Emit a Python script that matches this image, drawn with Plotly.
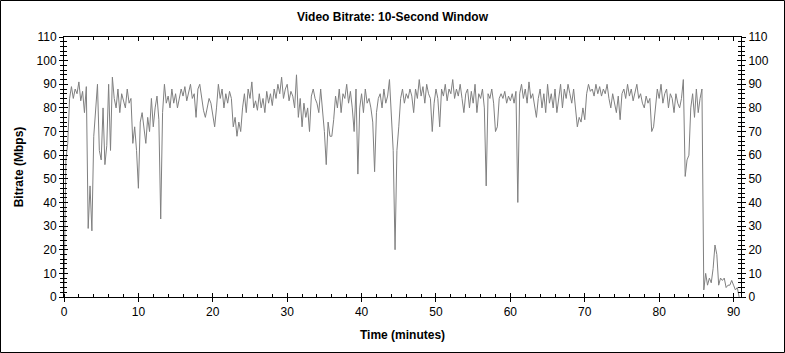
import plotly.graph_objects as go

# Sampled every 0.25 minutes, starting at t = 0
STEP_MIN = 0.25
bitrate_mbps = [
    0, 58, 65, 84,      # 0
    89, 84, 88, 86,     # 1
    91, 83, 87, 78,     # 2
    89, 29, 47, 28,     # 3
    68, 80, 90, 62,     # 4
    58, 80, 56, 64,     # 5
    90, 62, 93, 84,     # 6
    80, 88, 78, 86,     # 7
    83, 80, 88, 82,     # 8
    84, 65, 72, 62,     # 9
    46, 74, 78, 70,     # 10
    65, 76, 70, 84,     # 11
    72, 80, 85, 75,     # 12
    33, 78, 90, 82,     # 13
    85, 80, 88, 82,     # 14
    86, 80, 84, 88,     # 15
    85, 89, 83, 87,     # 16
    90, 84, 86, 76,     # 17
    88, 90, 84, 79,     # 18
    76, 80, 84, 82,     # 19
    76, 72, 80, 90,     # 20
    84, 88, 80, 86,     # 21
    82, 87, 84, 72,     # 22
    76, 68, 74, 70,     # 23
    80, 86, 78, 88,     # 24
    84, 91, 80, 83,     # 25
    79, 86, 80, 84,     # 26
    78, 87, 82, 86,     # 27
    81, 88, 84, 90,     # 28
    86, 93, 84, 88,     # 29
    90, 83, 87, 85,     # 30
    80, 94, 76, 84,     # 31
    72, 82, 76, 80,     # 32
    70, 85, 88, 84,     # 33
    82, 78, 88, 80,     # 34
    70, 56, 74, 68,     # 35
    68, 75, 85, 80,     # 36
    88, 78, 86, 84,     # 37
    90, 82, 87, 80,     # 38
    70, 88, 52, 80,     # 39
    86, 78, 88, 82,     # 40
    84, 80, 74, 53,     # 41
    78, 84, 86, 80,     # 42
    88, 82, 85, 92,     # 43
    78, 62, 20, 62,     # 44
    72, 84, 88, 82,     # 45
    86, 84, 88, 85,     # 46
    78, 88, 84, 92,     # 47
    85, 89, 82, 90,     # 48
    86, 84, 70, 82,     # 49
    88, 84, 72, 88,     # 50
    85, 90, 83, 88,     # 51
    86, 92, 84, 88,     # 52
    85, 90, 84, 78,     # 53
    86, 88, 80, 87,     # 54
    82, 90, 78, 86,     # 55
    84, 88, 80, 47,     # 56
    86, 84, 88, 82,     # 57
    70, 72, 84, 86,     # 58
    84, 87, 82, 85,     # 59
    83, 86, 82, 87,     # 60
    40, 86, 90, 84,     # 61
    88, 82, 91, 84,     # 62
    86, 80, 76, 84,     # 63
    88, 80, 86, 78,     # 64
    90, 82, 86, 80,     # 65
    88, 78, 85, 90,     # 66
    80, 88, 84, 90,     # 67
    86, 82, 88, 78,     # 68
    72, 76, 74, 80,     # 69
    75, 86, 90, 87,     # 70
    88, 85, 90, 86,     # 71
    89, 85, 88, 86,     # 72
    90, 84, 80, 86,     # 73
    82, 78, 85, 75,     # 74
    86, 88, 84, 90,     # 75
    85, 88, 83, 87,     # 76
    90, 84, 86, 82,     # 77
    80, 85, 82, 84,     # 78
    70, 72, 80, 88,     # 79
    84, 90, 82, 86,     # 80
    88, 80, 86, 84,     # 81
    78, 86, 82, 80,     # 82
    84, 92, 51, 58,     # 83
    60, 80, 86, 76,     # 84
    88, 78, 84, 88,     # 85
    3, 10, 5, 8,        # 86
    6, 12, 22, 18,      # 87
    5, 8, 7, 8,         # 88
    4, 5, 5, 7,         # 89
    5, 3, 4, 0,         # 90
]
time_min = [i * STEP_MIN for i in range(len(bitrate_mbps))]

x_ticks = [0, 10, 20, 30, 40, 50, 60, 70, 80, 90]
y_ticks = [0, 10, 20, 30, 40, 50, 60, 70, 80, 90, 100, 110]

TITLE = "Video Bitrate: 10-Second Window"
X_TITLE = "Time (minutes)"
Y_TITLE = "Bitrate (Mbps)"

W, H = 785, 353
L, R, T, B = 64, 44, 37, 56
PW, PH = W - L - R, H - T - B
FONT = "Arial, Liberation Sans, sans-serif"

fig = go.Figure()
fig.add_trace(go.Scatter(x=time_min, y=bitrate_mbps, mode="lines",
                         line=dict(color="#808080", width=1), showlegend=False,
                         hoverinfo="x+y"))
# invisible traces to activate overlay axes
fig.add_trace(go.Scatter(x=[0], y=[0], xaxis="x2", yaxis="y2", mode="markers",
                         marker=dict(opacity=0), showlegend=False, hoverinfo="skip"))
fig.add_trace(go.Scatter(x=[0], y=[0], xaxis="x", yaxis="y3", mode="markers",
                         marker=dict(opacity=0), showlegend=False, hoverinfo="skip"))

common = dict(showgrid=False, zeroline=False, showline=True, linecolor="black",
              linewidth=1, tickcolor="black", tickwidth=1)
tickfont = dict(family=FONT, size=12, color="black")

fig.update_layout(
    width=W, height=H, autosize=False,
    margin=dict(l=L, r=R, t=T, b=B),
    paper_bgcolor="white", plot_bgcolor="white",
    title=dict(text=f"<b>{TITLE}</b>", x=0.5, xanchor="center",
               y=1 - 17 / H, yanchor="middle",
               font=dict(family=FONT, size=12, color="black")),
    xaxis=dict(range=[0, 91], tickvals=x_ticks, ticks="outside", ticklen=4,
               tickfont=tickfont,
               minor=dict(dtick=2, tick0=0, ticks="inside", ticklen=3,
                          tickcolor="black", showgrid=False),
               title=dict(text=f"<b>{X_TITLE}</b>", standoff=12,
                          font=dict(family=FONT, size=12, color="black")),
               **common),
    xaxis2=dict(range=[0, 91], overlaying="x", matches="x", anchor="y", side="bottom",
                tickvals=x_ticks, ticks="inside", ticklen=4, showticklabels=False,
                mirror="allticks",
                minor=dict(dtick=2, tick0=0, ticks="inside", ticklen=3,
                           tickcolor="black", showgrid=False),
                **common),
    yaxis=dict(range=[0, 110], tickvals=y_ticks, ticks="outside", ticklen=4,
               tickfont=tickfont,
               minor=dict(dtick=2, tick0=0, ticks="outside", ticklen=3,
                          tickcolor="black", showgrid=False),
               title=dict(text=f"<b>{Y_TITLE}</b>", standoff=10,
                          font=dict(family=FONT, size=12, color="black")),
               **common),
    yaxis2=dict(range=[0, 110], overlaying="y", matches="y", anchor="x", side="left",
                tickvals=y_ticks, ticks="inside", ticklen=4, showticklabels=False,
                mirror="allticks",
                minor=dict(dtick=2, tick0=0, ticks="inside", ticklen=3,
                           tickcolor="black", showgrid=False),
                **common),
    yaxis3=dict(range=[0, 110], overlaying="y", matches="y", anchor="x", side="right",
                tickvals=y_ticks, ticks="outside", ticklen=4, tickfont=tickfont,
                minor=dict(dtick=2, tick0=0, ticks="outside", ticklen=3,
                           tickcolor="black", showgrid=False),
                **common),
)

# outer border of the image
fig.add_shape(type="rect", xref="paper", yref="paper",
              x0=-(L - 0.5) / PW, x1=(W - 0.5 - L) / PW,
              y0=-(B - 0.5) / PH, y1=(PH + T - 0.5) / PH,
              line=dict(color="black", width=1), fillcolor="rgba(0,0,0,0)",
              layer="above")

fig.write_html("out.html")
